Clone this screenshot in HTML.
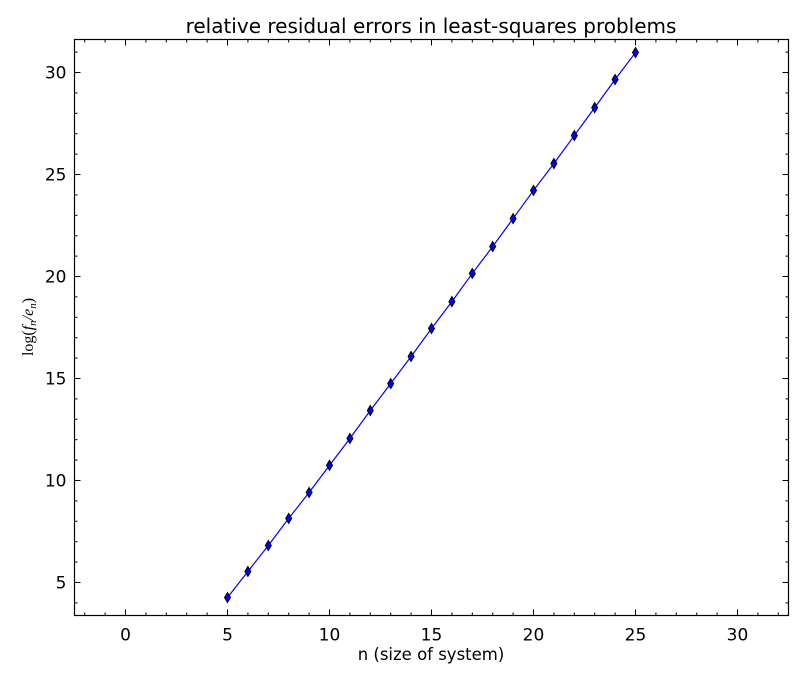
<!DOCTYPE html>
<html><head><meta charset="utf-8"><style>body{margin:0;background:#fff}svg text{font-family:"DejaVu Sans","Liberation Sans",sans-serif}</style></head>
<body>
<svg id="chart" width="806" height="678" xmlns="http://www.w3.org/2000/svg">
<rect width="806" height="678" fill="#fff"/>
<text x="431" y="33" text-anchor="middle" font-size="20">relative residual errors in least-squares problems</text>
<text x="431" y="660" text-anchor="middle" font-size="16.5">n (size of system)</text>
<text transform="translate(33,327) rotate(-90)" text-anchor="middle" font-size="16" style="font-family:'Liberation Serif',serif">log(<tspan font-style="italic">f<tspan font-size="11" dy="3">n</tspan><tspan dy="-3">/e</tspan><tspan font-size="11" dy="3">n</tspan></tspan><tspan dy="-3">)</tspan></text>
<g id="ticks"></g>
<g id="marks"></g>
<rect x="74.5" y="39.5" width="714" height="576" fill="none" stroke="#000" stroke-width="1.2"/>
</svg>
<script>
const nValues=[5,6,7,8,9,10,11,12,13,14,15,16,17,18,19,20,21,22,23,24,25];
const logRatio=[4.26,5.54,6.81,8.14,9.41,10.74,12.06,13.43,14.75,16.08,17.45,18.77,20.15,21.47,22.84,24.22,25.54,26.91,28.28,29.66,30.98];
const xTicks=[0,5,10,15,20,25,30];
const yTicks=[5,10,15,20,25,30];
const L=74.5,R=788.5,T=39.5,B=615.5,xmin=-2.5,xmax=32.5,ymin=3.38,ymax=31.62;
const sx=v=>L+(v-xmin)/(xmax-xmin)*(R-L);
const sy=v=>B-(v-ymin)/(ymax-ymin)*(B-T);
const NS='http://www.w3.org/2000/svg';
function mk(t,a,p){const e=document.createElementNS(NS,t);for(const k in a)e.setAttribute(k,a[k]);p.appendChild(e);return e;}
const tg=document.getElementById('ticks'),mg=document.getElementById('marks');
for(let v=-2;v<=32;v++){const x=sx(v),len=(v%5===0)?6:3;
 mk('line',{x1:x,x2:x,y1:B,y2:B-len,stroke:'#000'},tg);mk('line',{x1:x,x2:x,y1:T,y2:T+len,stroke:'#000'},tg);}
for(let v=4;v<=31;v++){const y=sy(v),len=(v%5===0)?6:3;
 mk('line',{x1:L,x2:L+len,y1:y,y2:y,stroke:'#000'},tg);mk('line',{x1:R,x2:R-len,y1:y,y2:y,stroke:'#000'},tg);}
xTicks.forEach(v=>{const t=mk('text',{x:sx(v),y:B+25,'text-anchor':'middle','font-size':17},tg);t.textContent=v;

});
yTicks.forEach(v=>{const t=mk('text',{x:L-8,y:sy(v)+6,'text-anchor':'end','font-size':17},tg);t.textContent=v;

});
const line=mk('polyline',{points:nValues.map((n,i)=>sx(n)+','+sy(logRatio[i])).join(' '),fill:'none',stroke:'#0000ff','stroke-width':1.2},mg);


nValues.forEach((n,i)=>{const x=sx(n),y=sy(logRatio[i]);
 const p=mk('polygon',{points:`${x},${y-5} ${x+3},${y} ${x},${y+5} ${x-3},${y}`,fill:'#0000ff',stroke:'#000','stroke-width':1},mg);
 
 });
</script>
</body></html>
